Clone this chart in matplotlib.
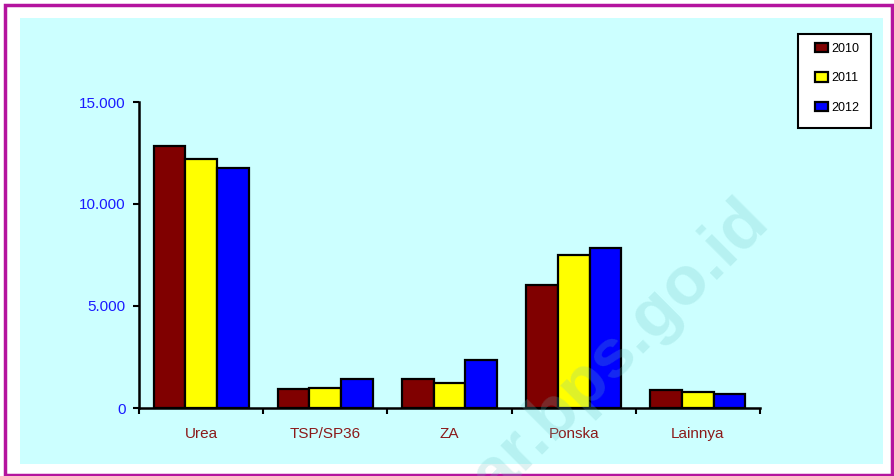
import matplotlib.pyplot as plt
from matplotlib.patches import Rectangle
from matplotlib.ticker import FuncFormatter
import numpy as np

categories = ["Urea", "TSP/SP36", "ZA", "Ponska", "Lainnya"]
years = ["2010", "2011", "2012"]
v2010 = [12850, 920, 1420, 6020, 900]
v2011 = [12200, 970, 1210, 7480, 800]
v2012 = [11770, 1410, 2350, 7840, 700]
colors = ["#800000", "#FFFF00", "#0000FF"]

W, H = 895, 476
fig = plt.figure(figsize=(W / 100, H / 100), dpi=100)
fig.patch.set_facecolor("white")

# frame + cyan panel (pixel coords, top-left origin)
def px(x, y):
    return x / W, 1 - y / H

fig.patches.append(Rectangle(px(20, 464), (883 - 20) / W, (464 - 18) / H,
                             transform=fig.transFigure, facecolor="#CCFFFF",
                             edgecolor="none", zorder=-2))
fig.patches.append(Rectangle(px(5.5, 474.5), (892 - 5.5) / W, (474.5 - 4.5) / H,
                             transform=fig.transFigure, facecolor="none",
                             edgecolor="#B4149E", linewidth=2.5, zorder=-1))

l, b = px(139, 408)
r, t = px(760, 102)
ax = fig.add_axes([l, b, r - l, t - b])
ax.set_facecolor("none")

x = np.arange(len(categories))
bw = 0.255
for i, (vals, yr) in enumerate(zip([v2010, v2011, v2012], years)):
    ax.bar(x + (i - 1) * bw, vals, bw, color=colors[i], edgecolor="black",
           linewidth=1.6, label=yr, zorder=3)

ax.set_xlim(-0.5, 4.5)
ax.set_ylim(0, 15000)
ax.set_yticks([0, 5000, 10000, 15000])
ax.yaxis.set_major_formatter(FuncFormatter(lambda v, p: f"{int(v):,}".replace(",", ".")))
ax.tick_params(axis="y", colors="black", labelcolor="#1a1aff", labelsize=11,
               length=4, width=1.5, pad=5.5, direction="out")
ax.set_xticks(np.arange(-0.5, 5, 1))
ax.set_xticklabels([])
ax.set_xticks(x, minor=True)
ax.set_xticklabels(categories, minor=True)
ax.tick_params(axis="x", which="major", length=4, width=1.5, direction="out")
ax.tick_params(axis="x", which="minor", length=0, pad=14, labelsize=11,
               labelcolor="#8B1A1A")
for s in ["top", "right"]:
    ax.spines[s].set_visible(False)
for s in ["left", "bottom"]:
    ax.spines[s].set_linewidth(1.8)

for lab in ax.get_xticklabels(minor=True) + ax.get_yticklabels():
    lab.set_fontfamily("Liberation Sans")

# legend box drawn separately so its padding matches the original
ax.add_patch(Rectangle(px(798, 128), (871 - 798) / W, (128 - 34) / H,
                       transform=fig.transFigure, facecolor="white",
                       edgecolor="black", linewidth=1.5, clip_on=False, zorder=4))
leg = ax.legend(loc="upper left", bbox_to_anchor=px(815, 42.5),
                bbox_transform=fig.transFigure,
                prop={"family": "Liberation Sans", "size": 9},
                handlelength=1.04, handleheight=0.8, handletextpad=0.25,
                labelspacing=1.4, borderpad=0, borderaxespad=0,
                frameon=False)
leg.set_zorder(5)

# watermark
wx, wy = px(772, 226)
fig.text(wx, wy, "jabar.bps.go.id", rotation=45, rotation_mode="anchor",
         ha="right", va="baseline", fontsize=50, fontweight="bold",
         family="Liberation Sans", color="#66C2C2", alpha=0.22, zorder=10)

fig.savefig("out.png", dpi=100)
